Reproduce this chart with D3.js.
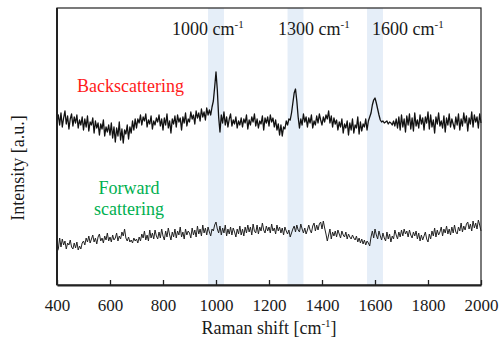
<!DOCTYPE html>
<html>
<head>
<meta charset="utf-8">
<script src="https://cdn.jsdelivr.net/npm/d3@7"></script>
<style>
  body { margin: 0; background: #fff; }
  text { font-family: "Liberation Serif", "Times New Roman", serif; }
</style>
</head>
<body>
<svg id="chart" width="502" height="345"></svg>
<script>
// Raman shift grid, 400 - 2000 cm-1, 5 cm-1 step
const shifts = d3.range(400, 2001, 5);

// marked bands (cm-1)
const bands = [1000, 1300, 1600];
const bandLabels = ['1000', '1300', '1600'];
const bandHalfWidth = 30;

const xTicks = [400, 600, 800, 1000, 1200, 1400, 1600, 1800, 2000];

// intensities (a.u.)
const backscattering = [
  163, 170, 160, 172, 158, 167, 174, 161, 169, 156, 166, 171, 159, 168, 162, 170, 157, 165, 160, 168,
  155, 166, 158, 169, 154, 163, 160, 167, 152, 164, 157, 162, 150, 161, 156, 165, 149, 158, 153, 160,
  150, 162, 147, 158, 143, 157, 149, 163, 145, 156, 142, 155, 151, 160, 146, 158, 152, 164, 155, 166,
  157, 166, 162, 170, 160, 168, 164, 171, 158, 165, 161, 169, 156, 164, 160, 167, 163, 170, 159, 166,
  155, 167, 160, 171, 157, 164, 152, 166, 161, 169, 158, 170, 163, 167, 155, 168, 162, 172, 159, 166,
  163, 173, 166, 170, 161, 174, 167, 172, 164, 176, 168, 173, 165, 177, 170, 175, 170, 178, 184, 198,
  213, 195, 168, 153, 170, 162, 173, 160, 168, 158, 166, 171, 159, 165, 161, 168, 157, 164, 160, 167,
  158, 166, 162, 170, 156, 165, 160, 168, 163, 171, 159, 166, 157, 164, 161, 169, 155, 167, 162, 168,
  159, 170, 163, 167, 158, 165, 155, 161, 150, 160, 149, 158, 156, 164, 160, 166, 165, 172, 182, 192,
  196, 184, 168, 157, 166, 160, 171, 163, 168, 158, 167, 162, 170, 157, 164, 160, 169, 162, 171, 165,
  160, 168, 163, 170, 166, 174, 162, 169, 158, 167, 161, 165, 155, 163, 158, 166, 152, 161, 157, 164,
  150, 162, 155, 166, 152, 160, 157, 168, 151, 163, 154, 161, 158, 166, 155, 164, 168, 172, 180, 185,
  187, 182, 176, 170, 165, 163, 164, 162, 163, 164, 161, 163, 162, 160, 164, 159, 166, 157, 168, 155,
  170, 158, 166, 153, 169, 160, 171, 156, 167, 154, 172, 159, 165, 157, 170, 161, 167, 155, 168, 162,
  173, 156, 170, 158, 165, 152, 168, 161, 172, 159, 164, 157, 169, 153, 167, 160, 171, 158, 166, 161,
  156, 168, 160, 171, 155, 166, 159, 172, 162, 169, 154, 167, 161, 173, 158, 170, 163, 168, 157, 171,
  162
];

const forward = [
  33, 36, 47, 38, 46, 40, 44, 36, 42, 40, 45, 38, 36, 42, 37, 43, 35, 39, 36, 42,
  44, 40, 47, 43, 49, 42, 46, 50, 43, 47, 41, 48, 51, 44, 47, 42, 49, 45, 52, 44,
  48, 43, 50, 45, 47, 52, 44, 49, 46, 53, 49, 56, 47, 44, 48, 43, 45, 42, 47, 44,
  46, 42, 48, 44, 51, 47, 54, 45, 50, 44, 55, 47, 52, 46, 55, 49, 46, 53, 47, 56,
  49, 45, 54, 48, 57, 50, 45, 53, 48, 56, 47, 54, 50, 58, 48, 53, 46, 56, 50, 54,
  52, 47, 57, 50, 55, 48, 59, 51, 56, 49, 60, 52, 57, 50, 58, 53, 49, 56, 54, 60,
  63, 56, 52, 59, 50, 57, 52, 60, 49, 56, 51, 58, 50, 57, 53, 48, 56, 51, 59, 50,
  56, 49, 58, 52, 60, 53, 58, 50, 61, 54, 52, 60, 51, 58, 54, 62, 55, 52, 59, 54,
  58, 52, 61, 54, 57, 51, 60, 54, 58, 52, 57, 50, 58, 54, 51, 55, 48, 52, 56, 59,
  53, 60, 55, 53, 61, 56, 52, 57, 51, 55, 60, 55, 52, 59, 62, 54, 60, 55, 61, 63,
  56, 64, 57, 51, 44, 50, 56, 46, 53, 49, 54, 48, 55, 51, 47, 54, 50, 48, 53, 46,
  51, 48, 46, 50, 47, 45, 49, 43, 47, 42, 46, 41, 45, 40, 44, 42, 39, 48, 54, 47,
  56, 50, 46, 54, 49, 45, 52, 47, 44, 53, 46, 51, 43, 49, 46, 55, 50, 46, 53, 48,
  55, 49, 56, 51, 54, 48, 55, 50, 47, 53, 49, 54, 46, 52, 44, 50, 45, 49, 53, 46,
  43, 51, 46, 54, 49, 57, 48, 55, 50, 53, 58, 49, 56, 52, 59, 51, 56, 50, 58, 52,
  60, 53, 51, 58, 54, 62, 53, 59, 55, 61, 63, 56, 61, 54, 64, 57, 62, 56, 65, 60,
  54
];

const margin = { top: 8, right: 21, bottom: 60, left: 57 };
const width = 502 - margin.left - margin.right;
const height = 345 - margin.top - margin.bottom;

const svg = d3.select('#chart');
const g = svg.append('g')
  .attr('transform', 'translate(' + margin.left + ',' + margin.top + ')');

const x = d3.scaleLinear().domain([400, 2000]).range([0, width]);
const y = d3.scaleLinear().domain([0, 277]).range([height, 0]);

// shaded bands
g.selectAll('rect.band')
  .data(bands)
  .enter()
  .append('rect')
  .attr('class', 'band')
  .attr('x', d => x(d - bandHalfWidth))
  .attr('width', d => x(d + bandHalfWidth) - x(d - bandHalfWidth))
  .attr('y', 0)
  .attr('height', height)
  .attr('fill', '#e5eef8');

const line = d3.line()
  .x((d, i) => x(shifts[i]))
  .y(d => y(d));

g.append('path')
  .datum(backscattering)
  .attr('fill', 'none')
  .attr('stroke', '#111')
  .attr('stroke-width', 1.3)
  .attr('stroke-linejoin', 'round')
  .attr('d', line);

g.append('path')
  .datum(forward)
  .attr('fill', 'none')
  .attr('stroke', '#222')
  .attr('stroke-width', 1)
  .attr('stroke-linejoin', 'round')
  .attr('d', line);

// frame
g.append('rect')
  .attr('width', width)
  .attr('height', height)
  .attr('fill', 'none')
  .attr('stroke', '#222')
  .attr('stroke-width', 1.2);

// bottom axis with inward ticks
const xAxis = d3.axisBottom(x)
  .tickValues(xTicks)
  .tickFormat(d3.format('d'))
  .tickSizeInner(-5)
  .tickSizeOuter(0)
  .tickPadding(14);

const gx = g.append('g')
  .attr('transform', 'translate(0,' + height + ')')
  .call(xAxis);
gx.select('.domain').attr('stroke', '#222').attr('stroke-width', 2);
gx.selectAll('.tick line').attr('stroke', '#222').attr('stroke-width', 1.3);
gx.selectAll('.tick text')
  .attr('font-size', 17)
  .attr('font-family', '"Liberation Serif", serif')
  .attr('fill', '#1a1a1a');

g.append('line')
  .attr('x1', 0).attr('x2', 0)
  .attr('y1', 0).attr('y2', height)
  .attr('stroke', '#222')
  .attr('stroke-width', 2);

// axis titles
const xTitle = svg.append('text')
  .attr('x', margin.left + width / 2)
  .attr('y', 334)
  .attr('text-anchor', 'middle')
  .attr('font-size', 18)
  .attr('fill', '#1a1a1a');
xTitle.append('tspan').text('Raman shift [cm');
xTitle.append('tspan').attr('font-size', 11).attr('dy', -7).text('-1');
xTitle.append('tspan').attr('dy', 7).text(']');

svg.append('text')
  .attr('transform', 'translate(24,168) rotate(-90)')
  .attr('text-anchor', 'middle')
  .attr('font-size', 18)
  .attr('fill', '#1a1a1a')
  .text('Intensity [a.u.]');

// band labels
const labelStart = [834, 1234, 1589];
bandLabels.forEach((lab, i) => {
  const t = g.append('text')
    .attr('x', x(labelStart[i]))
    .attr('y', 27)
    .attr('font-size', 18)
    .attr('fill', '#1a1a1a');
  t.append('tspan').text(lab + ' cm');
  t.append('tspan').attr('font-size', 11).attr('dy', -7).text('-1');
});

// series labels
g.append('text')
  .attr('x', 77 - margin.left)
  .attr('y', 92 - margin.top)
  .attr('font-size', 18)
  .attr('fill', '#ff1a1a')
  .text('Backscattering');

const fw = g.append('text')
  .attr('x', 129 - margin.left)
  .attr('y', 194 - margin.top)
  .attr('text-anchor', 'middle')
  .attr('font-size', 18)
  .attr('fill', '#00b050');
fw.append('tspan').text('Forward');
fw.append('tspan').attr('x', 129 - margin.left).attr('dy', 21).text('scattering');
</script>
</body>
</html>
